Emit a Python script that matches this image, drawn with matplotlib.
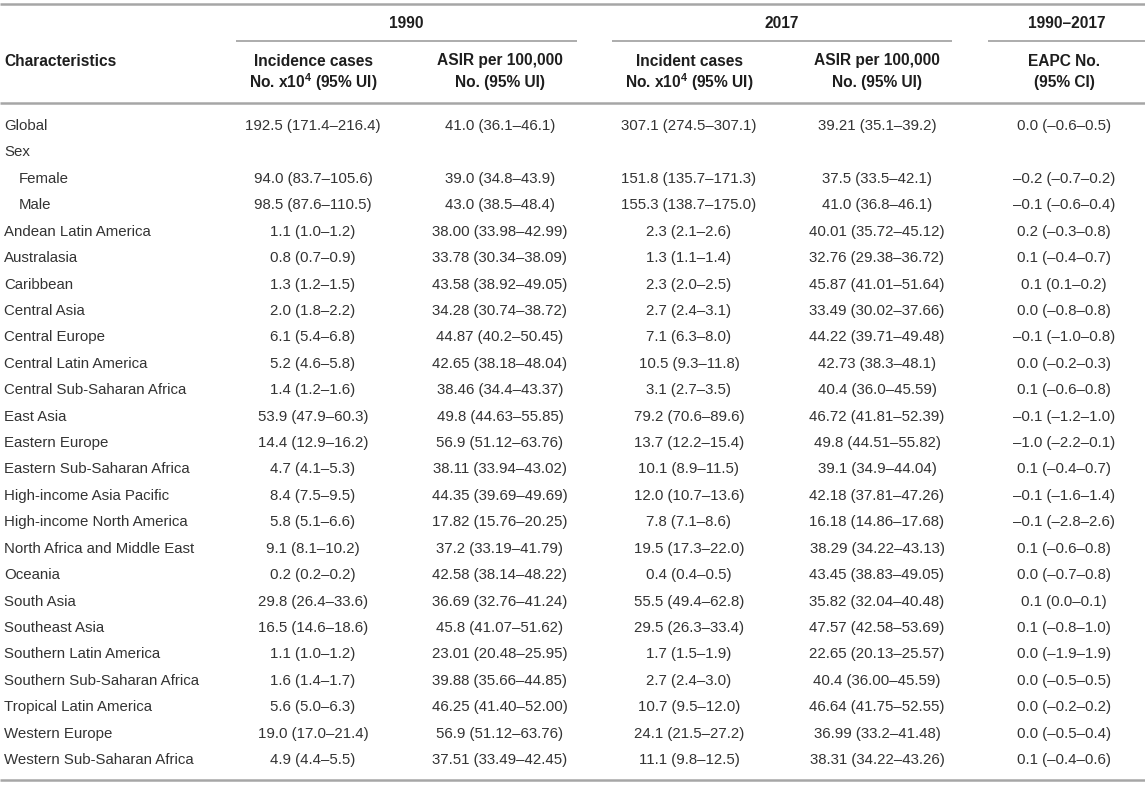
import matplotlib
matplotlib.use("Agg")
import matplotlib.pyplot as plt

plt.rcParams["font.family"] = ["Liberation Sans", "DejaVu Sans"]
plt.rcParams["mathtext.fontset"] = "custom"
plt.rcParams["mathtext.rm"] = "Liberation Sans"
plt.rcParams["mathtext.bf"] = "Liberation Sans:bold"

# table content
rows = ["Global", "Sex", "Female", "Male",
        "Andean Latin America", "Australasia", "Caribbean", "Central Asia",
        "Central Europe", "Central Latin America", "Central Sub-Saharan Africa",
        "East Asia", "Eastern Europe", "Eastern Sub-Saharan Africa",
        "High-income Asia Pacific", "High-income North America",
        "North Africa and Middle East", "Oceania", "South Asia", "Southeast Asia",
        "Southern Latin America", "Southern Sub-Saharan Africa",
        "Tropical Latin America", "Western Europe", "Western Sub-Saharan Africa"]
indented = ["Female", "Male"]

cases_1990 = ["192.5 (171.4–216.4)", "", "94.0 (83.7–105.6)", "98.5 (87.6–110.5)",
              "1.1 (1.0–1.2)", "0.8 (0.7–0.9)", "1.3 (1.2–1.5)", "2.0 (1.8–2.2)",
              "6.1 (5.4–6.8)", "5.2 (4.6–5.8)", "1.4 (1.2–1.6)", "53.9 (47.9–60.3)",
              "14.4 (12.9–16.2)", "4.7 (4.1–5.3)", "8.4 (7.5–9.5)", "5.8 (5.1–6.6)",
              "9.1 (8.1–10.2)", "0.2 (0.2–0.2)", "29.8 (26.4–33.6)", "16.5 (14.6–18.6)",
              "1.1 (1.0–1.2)", "1.6 (1.4–1.7)", "5.6 (5.0–6.3)", "19.0 (17.0–21.4)",
              "4.9 (4.4–5.5)"]
asir_1990 = ["41.0 (36.1–46.1)", "", "39.0 (34.8–43.9)", "43.0 (38.5–48.4)",
             "38.00 (33.98–42.99)", "33.78 (30.34–38.09)", "43.58 (38.92–49.05)",
             "34.28 (30.74–38.72)", "44.87 (40.2–50.45)", "42.65 (38.18–48.04)",
             "38.46 (34.4–43.37)", "49.8 (44.63–55.85)", "56.9 (51.12–63.76)",
             "38.11 (33.94–43.02)", "44.35 (39.69–49.69)", "17.82 (15.76–20.25)",
             "37.2 (33.19–41.79)", "42.58 (38.14–48.22)", "36.69 (32.76–41.24)",
             "45.8 (41.07–51.62)", "23.01 (20.48–25.95)", "39.88 (35.66–44.85)",
             "46.25 (41.40–52.00)", "56.9 (51.12–63.76)", "37.51 (33.49–42.45)"]
cases_2017 = ["307.1 (274.5–307.1)", "", "151.8 (135.7–171.3)", "155.3 (138.7–175.0)",
              "2.3 (2.1–2.6)", "1.3 (1.1–1.4)", "2.3 (2.0–2.5)", "2.7 (2.4–3.1)",
              "7.1 (6.3–8.0)", "10.5 (9.3–11.8)", "3.1 (2.7–3.5)", "79.2 (70.6–89.6)",
              "13.7 (12.2–15.4)", "10.1 (8.9–11.5)", "12.0 (10.7–13.6)", "7.8 (7.1–8.6)",
              "19.5 (17.3–22.0)", "0.4 (0.4–0.5)", "55.5 (49.4–62.8)", "29.5 (26.3–33.4)",
              "1.7 (1.5–1.9)", "2.7 (2.4–3.0)", "10.7 (9.5–12.0)", "24.1 (21.5–27.2)",
              "11.1 (9.8–12.5)"]
asir_2017 = ["39.21 (35.1–39.2)", "", "37.5 (33.5–42.1)", "41.0 (36.8–46.1)",
             "40.01 (35.72–45.12)", "32.76 (29.38–36.72)", "45.87 (41.01–51.64)",
             "33.49 (30.02–37.66)", "44.22 (39.71–49.48)", "42.73 (38.3–48.1)",
             "40.4 (36.0–45.59)", "46.72 (41.81–52.39)", "49.8 (44.51–55.82)",
             "39.1 (34.9–44.04)", "42.18 (37.81–47.26)", "16.18 (14.86–17.68)",
             "38.29 (34.22–43.13)", "43.45 (38.83–49.05)", "35.82 (32.04–40.48)",
             "47.57 (42.58–53.69)", "22.65 (20.13–25.57)", "40.4 (36.00–45.59)",
             "46.64 (41.75–52.55)", "36.99 (33.2–41.48)", "38.31 (34.22–43.26)"]
eapc = ["0.0 (–0.6–0.5)", "", "–0.2 (–0.7–0.2)", "–0.1 (–0.6–0.4)",
        "0.2 (–0.3–0.8)", "0.1 (–0.4–0.7)", "0.1 (0.1–0.2)", "0.0 (–0.8–0.8)",
        "–0.1 (–1.0–0.8)", "0.0 (–0.2–0.3)", "0.1 (–0.6–0.8)", "–0.1 (–1.2–1.0)",
        "–1.0 (–2.2–0.1)", "0.1 (–0.4–0.7)", "–0.1 (–1.6–1.4)", "–0.1 (–2.8–2.6)",
        "0.1 (–0.6–0.8)", "0.0 (–0.7–0.8)", "0.1 (0.0–0.1)", "0.1 (–0.8–1.0)",
        "0.0 (–1.9–1.9)", "0.0 (–0.5–0.5)", "0.0 (–0.2–0.2)", "0.0 (–0.5–0.4)",
        "0.1 (–0.4–0.6)"]

groups = ["1990", "2017", "1990–2017"]
col_headers = [("Incidence cases", r"No. x10$^\mathbf{4}$ (95% UI)"),
               ("ASIR per 100,000", "No. (95% UI)"),
               ("Incident cases", r"No. x10$^\mathbf{4}$ (95% UI)"),
               ("ASIR per 100,000", "No. (95% UI)"),
               ("EAPC No.", "(95% CI)")]

W, H = 1145, 785
fig = plt.figure(figsize=(W / 100, H / 100), dpi=100)
ax = fig.add_axes([0, 0, 1, 1])
ax.set_xlim(0, W)
ax.set_ylim(H, 0)
ax.axis("off")

body = "#333333"
head = "#1e1e1e"
rule = "#a6a6a6"
fs = 10.8
hfs = 11.2

col_x = [313, 500, 689, 877, 1064]
group_span = [(236, 577), (612, 952), (988, 1145)]

# rules
for yr in (4, 103, 780):
    ax.plot([0, W], [yr, yr], color=rule, lw=1.8, solid_capstyle="butt")
for (x0, x1), g in zip(group_span, groups):
    ax.plot([x0, x1], [41, 41], color=rule, lw=1.3, solid_capstyle="butt")
    ax.text((x0 + x1) / 2, 24, g, ha="center", va="center", fontsize=hfs,
            fontweight="bold", color=head)

ax.text(4, 61, "Characteristics", ha="left", va="center", fontsize=hfs,
        fontweight="bold", color=head)
for x, (line1, line2) in zip(col_x, col_headers):
    ax.text(x, 61, line1, ha="center", va="center", fontsize=hfs, fontweight="bold", color=head)
    ax.text(x, 82, line2, ha="center", va="center", fontsize=hfs, fontweight="bold", color=head)

y0, dy = 126, 26.42
columns = [cases_1990, asir_1990, cases_2017, asir_2017, eapc]
for i, name in enumerate(rows):
    y = y0 + i * dy
    ax.text(19 if name in indented else 4, y, name, ha="left", va="center",
            fontsize=fs, color=body)
    for x, col in zip(col_x, columns):
        if col[i]:
            ax.text(x, y, col[i], ha="center", va="center", fontsize=fs, color=body)

fig.savefig("out.png", dpi=100, facecolor="white")
